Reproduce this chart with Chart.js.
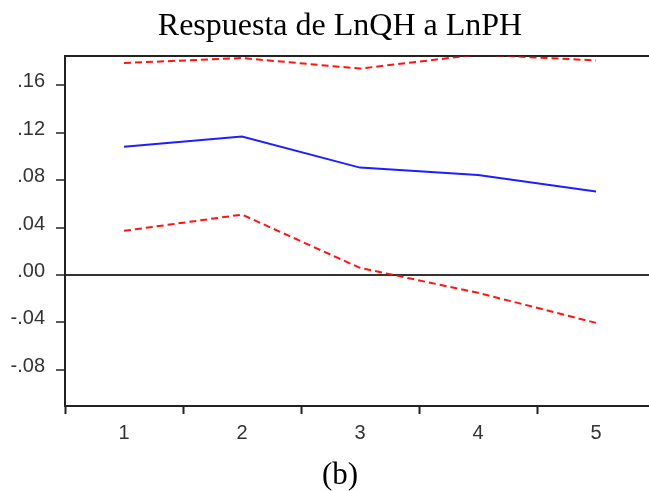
<!DOCTYPE html>
<html>
<head>
<meta charset="utf-8">
<script src="https://cdn.jsdelivr.net/npm/chart.js@4.4.1/dist/chart.umd.min.js"></script>
<style>
html, body { margin: 0; padding: 0; background: #fff; overflow: hidden; }
#wrap { width: 680px; height: 491px; }
</style>
</head>
<body>
<div id="wrap"><canvas id="irf" width="680" height="491"></canvas></div>
<script>
// impulse response of LnQH to a shock in LnPH, +/- 2 s.e. bands
var periods = [1, 2, 3, 4, 5];
var response = [0.1082, 0.1168, 0.0906, 0.0844, 0.0704];
var upperBand = [0.1789, 0.1831, 0.1742, 0.1860, 0.1811];
var lowerBand = [0.0372, 0.0509, 0.0059, -0.0151, -0.0405];
var yTicks = [-0.08, -0.04, 0.00, 0.04, 0.08, 0.12, 0.16];
var xTicks = [0.5, 1, 1.5, 2, 2.5, 3, 3.5, 4, 4.5, 5, 5.5];

function pts(arr) {
  return periods.map(function (p, i) { return { x: p, y: arr[i] }; });
}
function fmt(v) {
  return v.toFixed(2).replace('0.', '.');
}

var axisCol = '#222';
var labelFont = { family: 'Liberation Sans', size: 20 };
var titleFont = { family: 'Liberation Serif', size: 32, weight: 'normal' };
var capFont = { family: 'Liberation Serif', size: 31, weight: 'normal', lineHeight: 1 };

new Chart(document.getElementById('irf'), {
  type: 'line',
  data: {
    datasets: [
      { data: pts(upperBand), borderColor: 'rgb(255,20,20)', borderWidth: 2, borderDash: [7, 4], pointRadius: 0, clip: 0 },
      { data: pts(response), borderColor: 'rgb(30,30,255)', borderWidth: 2, pointRadius: 0, clip: 0 },
      { data: pts(lowerBand), borderColor: 'rgb(255,20,20)', borderWidth: 2, borderDash: [7, 4], pointRadius: 0, clip: 0 }
    ]
  },
  options: {
    responsive: false,
    animation: false,
    layout: { padding: 0 },
    plugins: {
      legend: { display: false },
      tooltip: { enabled: false },
      title: { display: true, text: 'Respuesta de LnQH a LnPH', color: '#000', font: titleFont, padding: { top: 7, bottom: 3 } },
      subtitle: { display: true, position: 'bottom', text: '(b)', color: '#000', font: capFont, padding: { top: 8, bottom: 0 } }
    },
    scales: {
      x: {
        type: 'linear',
        min: 0.5,
        max: 0.5 + (680 - 65) / 118,
        afterBuildTicks: function (s) { s.ticks = xTicks.map(function (v) { return { value: v }; }); },
        ticks: {
          autoSkip: false, maxRotation: 0, color: '#333', font: labelFont, padding: 7,
          callback: function (v) { return Number.isInteger(v) ? String(v) : ''; }
        },
        grid: {
          drawOnChartArea: false, tickLength: 8, tickWidth: 2,
          tickColor: function (c) { return Number.isInteger(c.tick.value) ? 'rgba(0,0,0,0)' : axisCol; }
        },
        border: { display: true, color: axisCol, width: 2 }
      },
      xTop: {
        type: 'linear', position: 'top',
        min: 0.5, max: 0.5 + (680 - 65) / 118,
        ticks: { display: false },
        grid: { display: false },
        border: { display: true, color: axisCol, width: 2 }
      },
      y: {
        min: -(407 - 275) / 1192.5,
        max: (275 - 55) / 1192.5,
        afterBuildTicks: function (s) { s.ticks = yTicks.map(function (v) { return { value: v }; }); },
        afterFit: function (s) { s.width = 65; },
        ticks: { color: '#333', font: labelFont, padding: 11, labelOffset: -3.5, callback: function (v) { return fmt(v); } },
        grid: {
          tickLength: 9, tickWidth: 1.5, tickColor: axisCol,
          color: function (c) { return c.tick && c.tick.value === 0 ? '#333' : 'rgba(0,0,0,0)'; },
          lineWidth: 2
        },
        border: { display: true, color: axisCol, width: 2 }
      }
    }
  }
});
</script>
</body>
</html>
